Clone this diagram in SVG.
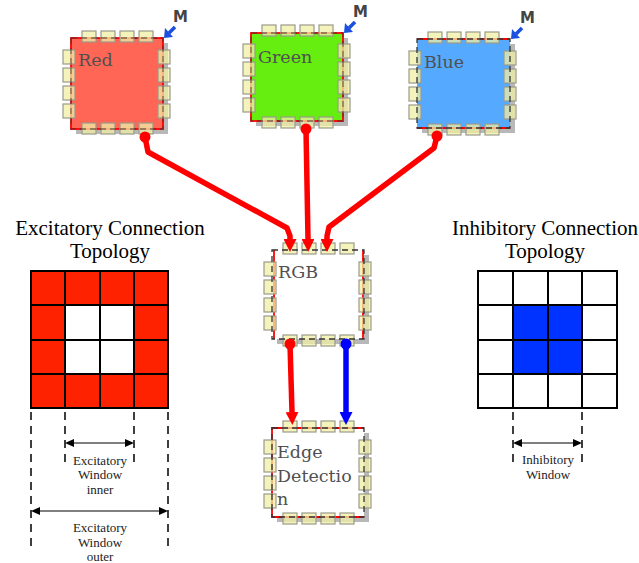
<svg xmlns="http://www.w3.org/2000/svg" xmlns:xlink="http://www.w3.org/1999/xlink" width="639" height="563" viewBox="0 0 639 563">
  <style>
    .shadow { fill: #b8b8b8; }
    .pin { fill: #f2efa6; fill-opacity: 0.75; stroke: #9a9a8a; stroke-width: 1.2; }
    .edge-dash { fill: none; stroke: #333; stroke-width: 1.3; stroke-dasharray: 6 4; }
    .redline { stroke: #ff0000; stroke-width: 1.8; fill: none; }
    .label { font-family: "DejaVu Serif", "Liberation Serif", serif; font-size: 17.5px; fill: #505050; }
    .mlabel { font-family: "DejaVu Sans", "Liberation Sans", sans-serif; font-size: 15px; font-weight: bold; fill: #444; }
    .title { font-family: "Liberation Serif", "Times New Roman", serif; font-size: 21px; fill: #000; text-anchor: middle; }
    .small { font-family: "Liberation Serif", "Times New Roman", serif; font-size: 13px; fill: #222; text-anchor: middle; }
    .grid { stroke: #000; stroke-width: 2; fill: none; }
    .dim { stroke: #000; stroke-width: 1.5; stroke-dasharray: 8 6; fill: none; }
    .dimarrow { stroke: #000; stroke-width: 1.2; fill: none; }
    .connR { stroke: #ff0000; stroke-width: 5.5; fill: none; stroke-linejoin: round; }
    .connB { stroke: #0000ff; stroke-width: 5.5; fill: none; stroke-linejoin: round; }
  </style>
  <defs>
    <!-- pin frame shared by every block: 4 pins per side around a 92x90 body -->
    <g id="pins">
      <rect class="pin" x="11" y="-7" width="14" height="11"/>
      <rect class="pin" x="30" y="-7" width="14" height="11"/>
      <rect class="pin" x="49" y="-7" width="14" height="11"/>
      <rect class="pin" x="68" y="-7" width="14" height="11"/>
      <rect class="pin" x="11" y="85" width="14" height="11"/>
      <rect class="pin" x="30" y="85" width="14" height="11"/>
      <rect class="pin" x="49" y="85" width="14" height="11"/>
      <rect class="pin" x="68" y="85" width="14" height="11"/>
      <rect class="pin" x="-8" y="12" width="12" height="14"/>
      <rect class="pin" x="-8" y="30" width="12" height="14"/>
      <rect class="pin" x="-8" y="48" width="12" height="14"/>
      <rect class="pin" x="-8" y="66" width="12" height="14"/>
      <rect class="pin" x="87" y="12" width="12" height="14"/>
      <rect class="pin" x="87" y="30" width="12" height="14"/>
      <rect class="pin" x="87" y="48" width="12" height="14"/>
      <rect class="pin" x="87" y="66" width="12" height="14"/>
    </g>
    <!-- module tag: blue arrow into the top-right corner, with an M -->
    <g id="mtag">
      <line x1="11" y1="-10" x2="5" y2="-4" stroke="#1a4fe0" stroke-width="3.5"/>
      <path d="M0,1 L1,-9 L9,0 Z" fill="#1a4fe0"/>
      <text class="mlabel" x="9" y="-15">M</text>
    </g>
    <marker id="ahR" viewBox="0 0 13 13" refX="0" refY="6.5" markerWidth="13" markerHeight="13" orient="auto" markerUnits="userSpaceOnUse">
      <path d="M0,0 L13,6.5 L0,13 Z" fill="#ff0000"/>
    </marker>
    <marker id="ahB" viewBox="0 0 13 13" refX="0" refY="6.5" markerWidth="13" markerHeight="13" orient="auto" markerUnits="userSpaceOnUse">
      <path d="M0,0 L13,6.5 L0,13 Z" fill="#0000ff"/>
    </marker>
  </defs>

  <rect width="639" height="563" fill="#fff"/>

  <!-- input blocks -->
  <g id="node-red" transform="translate(71,38)">
    <rect class="shadow" x="5" y="5" width="92" height="91"/>
    <rect x="0" y="0" width="92" height="91" fill="#ff6655"/>
    <rect class="redline" x="0" y="0" width="92" height="91"/>
    <use xlink:href="#pins"/>
    <rect class="edge-dash" x="0" y="0" width="92" height="91" stroke-opacity="0.6"/>
    <text class="label" x="7" y="28">Red</text>
    <use xlink:href="#mtag" transform="translate(93,-1)"/>
  </g>

  <g id="node-green" transform="translate(251,33)">
    <rect class="shadow" x="5" y="5" width="92" height="88"/>
    <rect x="0" y="0" width="92" height="88" fill="#66ee11"/>
    <rect class="redline" x="0" y="0" width="92" height="88"/>
    <use xlink:href="#pins" transform="translate(0,-1)"/>
    <rect class="edge-dash" x="0" y="0" width="92" height="88" stroke-opacity="0.6"/>
    <text class="label" x="7" y="30">Green</text>
    <use xlink:href="#mtag" transform="translate(93,-1)"/>
  </g>

  <g id="node-blue" transform="translate(417,39)">
    <rect class="shadow" x="5" y="5" width="93" height="89"/>
    <rect x="0" y="0" width="93" height="89" fill="#55aaff"/>
    <line class="redline" x1="0" y1="0" x2="93" y2="0"/>
    <line class="redline" x1="0" y1="89" x2="93" y2="89"/>
    <use xlink:href="#pins"/>
    <rect class="edge-dash" x="0" y="0" width="93" height="89"/>
    <text class="label" x="7" y="29">Blue</text>
    <use xlink:href="#mtag" transform="translate(94,-1)"/>
  </g>

  <!-- merge block -->
  <g id="node-rgb" transform="translate(272,250)">
    <rect class="shadow" x="5" y="5" width="92" height="89"/>
    <rect x="0" y="0" width="92" height="89" fill="#fff"/>
    <line class="redline" x1="2" y1="0" x2="2" y2="89"/>
    <line class="redline" x1="91" y1="0" x2="91" y2="89"/>
    <use xlink:href="#pins"/>
    <rect class="edge-dash" x="0" y="0" width="92" height="89"/>
    <text class="label" x="6" y="28">RGB</text>
  </g>

  <!-- output block -->
  <g id="node-edge" transform="translate(272,428)">
    <rect class="shadow" x="5" y="5" width="92" height="89"/>
    <rect x="0" y="0" width="92" height="89" fill="#fff"/>
    <path class="redline" d="M92,0 L0,0 L0,89 L92,89"/>
    <use xlink:href="#pins"/>
    <rect class="edge-dash" x="0" y="0" width="92" height="89"/>
    <text class="label" x="5" y="30">Edge</text>
    <text class="label" x="5" y="54">Detectio</text>
    <text class="label" x="5" y="77">n</text>
  </g>

  <!-- connectors -->
  <g id="connectors">
    <circle cx="145" cy="137" r="5.5" fill="#ff0000"/>
    <path class="connR" d="M145,137 L148,152 L287,228 L290,236 L290,239" marker-end="url(#ahR)"/>
    <circle cx="306" cy="129" r="5.5" fill="#ff0000"/>
    <path class="connR" d="M306,129 L308,239" marker-end="url(#ahR)"/>
    <circle cx="437" cy="136" r="5.5" fill="#ff0000"/>
    <path class="connR" d="M437,136 L434,148 L329,227 L327,236 L327,239" marker-end="url(#ahR)"/>
    <circle cx="290" cy="344" r="5.5" fill="#ff0000"/>
    <path class="connR" d="M290,344 L292,412" marker-end="url(#ahR)"/>
    <circle cx="346" cy="344" r="5.5" fill="#0000ff"/>
    <path class="connB" d="M346,344 L346,412" marker-end="url(#ahB)"/>
  </g>

  <!-- excitatory topology -->
  <g id="excitatory">
    <text class="title" x="110" y="235">Excitatory Connection</text>
    <text class="title" x="110" y="258">Topology</text>
    <rect x="31" y="271" width="137" height="137" fill="#ff2200"/>
    <rect x="65" y="305" width="69" height="69" fill="#fff"/>
    <path class="grid" d="M31,271 H168 V408 H31 Z M65,271 V408 M100,271 V408 M134,271 V408 M31,305 H168 M31,340 H168 M31,374 H168"/>
    <path class="dim" d="M31,412 V552 M168,412 V552 M65,412 V464 M134,412 V464"/>
    <path class="dimarrow" d="M72,443 H127 M38,511 H161"/>
    <path d="M65,443 L74,439 L74,447 Z M134,443 L125,439 L125,447 Z M31,511 L40,507 L40,515 Z M168,511 L159,507 L159,515 Z" fill="#000"/>
    <text class="small" x="100" y="465">Excitatory</text>
    <text class="small" x="100" y="479">Window</text>
    <text class="small" x="100" y="494">inner</text>
    <text class="small" x="100" y="532">Excitatory</text>
    <text class="small" x="100" y="547">Window</text>
    <text class="small" x="100" y="561">outer</text>
  </g>

  <!-- inhibitory topology -->
  <g id="inhibitory">
    <text class="title" x="545" y="235">Inhibitory Connection</text>
    <text class="title" x="545" y="258">Topology</text>
    <rect x="478" y="271" width="139" height="137" fill="#fff"/>
    <rect x="513" y="305" width="69" height="69" fill="#0033ff"/>
    <path class="grid" d="M478,271 H617 V408 H478 Z M513,271 V408 M548,271 V408 M582,271 V408 M478,305 H617 M478,340 H617 M478,374 H617"/>
    <path class="dim" d="M513,412 V464 M582,412 V464"/>
    <path class="dimarrow" d="M520,443 H575"/>
    <path d="M513,443 L522,439 L522,447 Z M582,443 L573,439 L573,447 Z" fill="#000"/>
    <text class="small" x="548" y="464">Inhibitory</text>
    <text class="small" x="548" y="479">Window</text>
  </g>
</svg>
